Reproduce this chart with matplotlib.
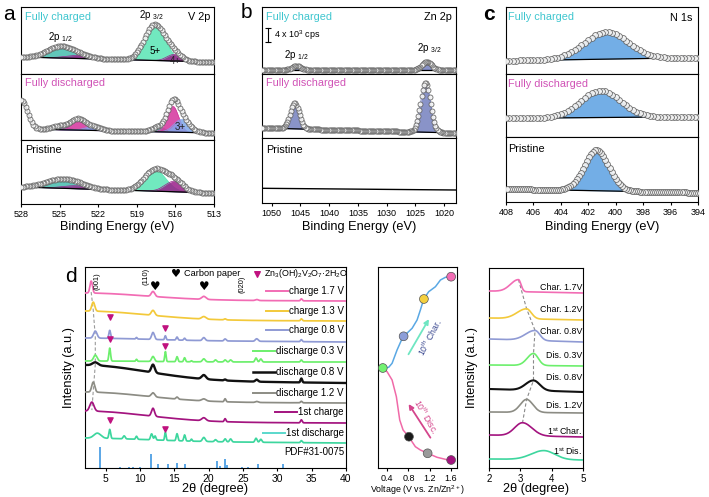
import numpy as np
import matplotlib
matplotlib.use('Agg')
import matplotlib.pyplot as plt

plt.rcParams['font.family'] = ['Liberation Sans', 'DejaVu Sans']
plt.rcParams['mathtext.fontset'] = 'custom'
plt.rcParams['mathtext.rm'] = 'Liberation Sans'
plt.rcParams['mathtext.it'] = 'Liberation Sans:italic'
plt.rcParams['mathtext.bf'] = 'Liberation Sans:bold'
plt.rcParams['axes.linewidth'] = 0.8

# ---------------------------------------------------------------- data
# Panel a : V 2p  (binding energy, eV)
v2p_ticks = [528, 525, 522, 519, 516, 513]
v2p_chg_bg = [17, 12]
v2p_chg_centers = [525.0, 523.5, 517.6, 516.1]
v2p_chg_heights = [11, 3, 36, 6.5]
v2p_chg_widths = [1.0, 1.0, 0.8, 0.55]
v2p_dis_bg = [11, 7]
v2p_dis_tail = [528.0, 29, 0.5]
v2p_dis_centers = [525.0, 523.6, 522.4, 517.3, 516.2, 515.5]
v2p_dis_heights = [4, 11, 4, 5, 26, 13]
v2p_dis_widths = [0.6, 0.55, 0.6, 0.5, 0.45, 0.6]
v2p_pri_bg = [17, 11]
v2p_pri_centers = [525.0, 523.7, 517.6, 516.1]
v2p_pri_heights = [8, 3, 21.5, 10.5]
v2p_pri_widths = [1.2, 1.0, 0.85, 0.7]

# Panel b : Zn 2p
zn_ticks = [1050, 1045, 1040, 1035, 1030, 1025, 1020]
zn_chg_bg = [4, 4]
zn_chg_centers = [1045.7, 1023.0]
zn_chg_heights = [4, 8]
zn_chg_widths = [0.8, 0.85]
zn_dis_bg = [10, 5]
zn_dis_centers = [1046.0, 1023.2]
zn_dis_heights = [26, 50]
zn_dis_widths = [0.8, 0.85]
zn_pri_bg = [14.7, 13]

# Panel c : N 1s
n_ticks = [408, 406, 404, 402, 400, 398, 396, 394]
n_chg_bg = [13.3, 16.3]
n_chg_peak = [400.7, 27, 1.6]
n_dis_bg = [18.7, 20.3]
n_dis_peak = [401.1, 27, 1.45]
n_pri_bg = [13, 9.3]
n_pri_peak = [401.4, 40.5, 0.9]

# Panel d : XRD patterns
xrd_labels = ['charge 1.7 V', 'charge 1.3 V', 'charge 0.8 V', 'discharge 0.3 V',
              'discharge 0.8 V', 'discharge 1.2 V', '1st charge', '1st discharge']
xrd_bg_left = [168, 148, 128, 106, 88, 66, 46, 27]
xrd_bg_right = [167, 147, 126, 106, 85, 65, 45, 25]
xrd_hump = [7, 9, 2, 1, 15, 10, 11, 3]
xrd_peaks_pink = [(2.9, 12, 0.18), (11.9, 5, 0.25), (19.3, 3, 0.3), (27.0, 1, 0.2), (33.5, 2, 0.12)]
xrd_peaks_yellow = [(3.2, 9, 0.22), (11.9, 5, 0.25), (19.3, 2.5, 0.3), (22.4, 1, 0.15), (33.5, 2, 0.12)]
xrd_peaks_blue = [(3.5, 7, 0.25), (5.6, 8, 0.12), (9.5, 1.5, 0.1), (11.9, 7, 0.2), (13.7, 4, 0.1),
                  (15.4, 3, 0.12), (16.5, 2, 0.12), (19.3, 3, 0.2), (22.4, 2, 0.15), (27.0, 2.5, 0.2),
                  (33.5, 2, 0.12)]
xrd_peaks_green = [(3.5, 6, 0.25), (5.6, 13, 0.12), (9.5, 2, 0.1), (11.9, 5, 0.2), (13.7, 10, 0.1),
                   (15.4, 5, 0.12), (16.5, 4, 0.12), (17.5, 1, 0.1), (19.3, 3, 0.2), (21.0, 2, 0.15),
                   (22.4, 2, 0.15), (23.2, 2, 0.15), (26.9, 4, 0.15), (27.6, 3, 0.15), (33.5, 2, 0.12)]
xrd_peaks_black = [(3.5, 3, 0.4), (11.9, 8, 0.25), (19.3, 4, 0.3), (22.4, 1, 0.15), (27.0, 2, 0.2),
                   (33.5, 4, 0.12)]
xrd_peaks_gray = [(3.2, 10, 0.22), (11.9, 4, 0.25), (15.4, 2, 0.15), (19.3, 2, 0.3), (22.4, 3, 0.12),
                  (27.0, 1, 0.2), (33.5, 1.5, 0.12)]
xrd_peaks_purple = [(3.0, 9, 0.3), (11.9, 8, 0.22), (19.3, 3, 0.3), (22.4, 3, 0.12), (33.5, 3, 0.12)]
xrd_peaks_teal = [(3.8, 5, 0.5), (5.6, 9, 0.12), (7.7, 3, 0.15), (9.5, 3, 0.12), (11.7, 6, 0.15),
                  (12.2, 4, 0.12), (13.7, 8, 0.1), (15.4, 7, 0.12), (16.5, 6, 0.12), (17.5, 2, 0.1),
                  (19.3, 4, 0.2), (21.0, 2, 0.15), (22.4, 3, 0.15), (23.2, 3, 0.15), (26.9, 4, 0.15),
                  (27.6, 3, 0.15), (33.5, 2, 0.12)]
xrd_peaks = [xrd_peaks_pink, xrd_peaks_yellow, xrd_peaks_blue, xrd_peaks_green,
             xrd_peaks_black, xrd_peaks_gray, xrd_peaks_purple, xrd_peaks_teal]
xrd_label_y = [177, 157, 138, 117, 96, 75, 56, 35]
pdf_pos = [4.18, 7.08, 8.43, 8.92, 9.98, 11.68, 12.64, 14.1, 15.45, 16.56, 21.2, 21.6, 22.4, 22.7,
           24.8, 25.8, 27.2, 30.9]
pdf_height = [21, 1.5, 1.5, 1.5, 1.5, 14, 4, 4, 5, 4, 7, 2, 9, 3, 1.5, 1.5, 4, 4]
zn_phase_tri_x = [5.6, 13.7, 5.6, 13.7, 5.6, 13.7]
zn_phase_tri_y = [151, 140, 129, 122, 48, 39]
carbon_x = [12.2, 19.3]
carbon_y = [181, 181]

# Middle panel : voltage profile
volt_dis_v = [0.317, 0.40, 0.494, 0.574, 0.637, 0.70, 0.805, 0.93, 1.024, 1.161, 1.337, 1.60]
volt_dis_y = [100, 96.3, 88, 71.3, 48, 38, 31.3, 21.3, 18, 14.7, 10.7, 7.3]
volt_chg_v = [0.317, 0.43, 0.494, 0.587, 0.681, 0.712, 0.869, 0.962, 1.024, 1.087, 1.18, 1.306,
              1.40, 1.493, 1.60]
volt_chg_y = [100, 100.7, 104.7, 118, 129.3, 131.7, 139.7, 148, 158, 169, 176.3, 181.3, 188,
              190.7, 191.3]
state_v = [1.60, 1.09, 0.71, 0.32, 0.81, 1.16, 1.60]
state_y = [191.3, 169, 131.7, 100, 31.3, 14.7, 8]

# Right panel : zoom of (001)
zoom_labels = ['Char. 1.7V', 'Char. 1.2V', 'Char. 0.8V', 'Dis. 0.3V', 'Dis. 0.8V', 'Dis. 1.2V',
               '1$^{\\mathrm{st}}$ Char.', '1$^{\\mathrm{st}}$ Dis.']
zoom_bg_left = [177, 150, 129, 103, 79, 56, 33, 9]
zoom_bg_right = [175, 148, 126, 102, 76, 55, 31, 8]
zoom_peak_c = [2.94, 3.2, 3.47, 3.42, 3.42, 3.2, 3.07, 3.75]
zoom_peak_h = [12, 10, 10, 12, 10, 13, 13, 9]
zoom_peak_sl = [0.25, 0.3, 0.3, 0.2, 0.25, 0.2, 0.25, 0.4]
zoom_peak_sr = [0.08, 0.15, 0.15, 0.15, 0.2, 0.2, 0.3, 0.35]
zoom_label_y = [180, 158, 137, 113, 91, 63, 37, 17]

# ---------------------------------------------------------------- styles
xrd_colors = ['#f26cb4', '#f3c93a', '#8f9ad4', '#6cef6c', '#111111', '#8c8c84', '#a3137f', '#3dd69e']
legend_colors = ['#f26cb4', '#f3c93a', '#8f9ad4', '#6cef6c', '#111111', '#8c8c84', '#a3137f', '#5ad8cc']
state_colors = ['#f26cb4', '#f3d040', '#8c9ed8', '#72f272', '#1a1a1a', '#9a9a9a', '#a3137f']
mint = '#58e6b4'
teal = '#45bcae'
purp = '#9a1f8a'
mag = '#d4329c'
blu3 = '#7fa8ec'
zn_fill = '#7480bf'
n_fill = '#5aa0e2'
cyan_txt = '#3fc6cf'
mag_txt = '#d052b6'

W, H = 709, 497
fig = plt.figure(figsize=(W / 100, H / 100), dpi=100)


def add_ax(l, t, r, b):
    return fig.add_axes([l / W, 1 - b / H, (r - l) / W, (b - t) / H])


def ftext(x, y, s, **kw):
    return fig.text(x / W, 1 - y / H, s, **kw)


def gauss(x, c, h, s):
    return h * np.exp(-0.5 * ((x - c) / s) ** 2)


def linbg(x, lim, bg):
    return bg[0] + (bg[1] - bg[0]) * (x - lim[0]) / (lim[1] - lim[0])


def clean(ax, xlim, ylim, ticks=None):
    ax.set_xlim(*xlim)
    ax.set_ylim(*ylim)
    ax.set_yticks([])
    if ticks is None:
        ax.set_xticks([])
    else:
        ax.set_xticks(ticks)
        ax.tick_params(axis='x', labelsize=6.5, length=2.5, width=0.8, pad=2, direction='out')


def xps(ax, x, lim, bg, centers, heights, widths, colors, step, tail=None, ms=3.6):
    base = linbg(x, lim, bg)
    if tail is not None:
        base = base + gauss(x, *tail)
    env = base.copy()
    for c, h, w, col in zip(centers, heights, widths, colors):
        comp = gauss(x, c, h, w)
        ax.fill_between(x, base, base + comp, color=col, alpha=0.85, lw=0, zorder=2)
        ax.plot(x, base + comp, color=col, lw=0.5, zorder=2)
        env = env + comp
    ax.plot(x, base, color='k', lw=0.9, zorder=3)
    xc = np.arange(min(lim), max(lim) + 1e-6, step)
    bc = linbg(xc, lim, bg)
    if tail is not None:
        bc = bc + gauss(xc, *tail)
    ec = bc.copy()
    for c, h, w in zip(centers, heights, widths):
        ec = ec + gauss(xc, c, h, w)
    ax.plot(xc, ec, ls='none', marker='o', ms=ms, mfc='#f4f4f4', mec='#5e5e5e', mew=0.6,
            alpha=0.9, zorder=4)


# ---------------------------------------------------------------- panel a
alim = (528, 513)
xa = np.linspace(513, 528, 700)
a1 = add_ax(21, 7, 214, 74)
a2 = add_ax(21, 74, 214, 140)
a3 = add_ax(21, 140, 214, 204)
xps(a1, xa, alim, v2p_chg_bg, v2p_chg_centers, v2p_chg_heights, v2p_chg_widths,
    [teal, purp, mint, purp], 0.12)
xps(a2, xa, alim, v2p_dis_bg, v2p_dis_centers, v2p_dis_heights, v2p_dis_widths,
    [teal, mag, blu3, teal, mag, blu3], 0.12, tail=v2p_dis_tail)
xps(a3, xa, alim, v2p_pri_bg, v2p_pri_centers, v2p_pri_heights, v2p_pri_widths,
    [teal, purp, mint, purp], 0.12)
clean(a1, alim, (0, 67))
clean(a2, alim, (0, 66))
clean(a3, alim, (0, 64), v2p_ticks)
a1.text(0.02, 0.85, 'Fully charged', transform=a1.transAxes, color=cyan_txt, fontsize=7.8, va='center')
a1.text(0.98, 0.85, 'V 2p', transform=a1.transAxes, color='k', fontsize=7.8, va='center', ha='right')
a1.text(517.9, 59, '2p $_{3/2}$', fontsize=7, ha='center', va='center')
a1.text(524.9, 37, '2p $_{1/2}$', fontsize=7, ha='center', va='center')
a1.text(517.6, 23, '5+', fontsize=7, ha='center', va='center')
a1.text(516.0, 13, '4+', fontsize=7, ha='center', va='center', color='#222222')
a2.text(0.02, 0.86, 'Fully discharged', transform=a2.transAxes, color=mag_txt, fontsize=7.8, va='center')
a2.text(515.6, 13, '3+', fontsize=7, ha='center', va='center', color='#222222')
a3.text(0.02, 0.84, 'Pristine', transform=a3.transAxes, color='k', fontsize=7.8, va='center')

# ---------------------------------------------------------------- panel b
blim = (1051.7, 1017.9)
xb = np.linspace(1017.9, 1051.7, 900)
b1 = add_ax(262, 7, 456, 74)
b2 = add_ax(262, 74, 456, 138)
b3 = add_ax(262, 138, 456, 203)
xps(b1, xb, blim, zn_chg_bg, zn_chg_centers, zn_chg_heights, zn_chg_widths, [zn_fill, zn_fill], 0.2)
xps(b2, xb, blim, zn_dis_bg, zn_dis_centers, zn_dis_heights, zn_dis_widths, [zn_fill, zn_fill], 0.2)
b3.plot(xb, linbg(xb, blim, zn_pri_bg), color='k', lw=1.0)
clean(b1, blim, (0, 67))
clean(b2, blim, (0, 64))
clean(b3, blim, (0, 65), zn_ticks)
b1.text(0.02, 0.85, 'Fully charged', transform=b1.transAxes, color=cyan_txt, fontsize=7.8, va='center')
b1.text(0.98, 0.85, 'Zn 2p', transform=b1.transAxes, color='k', fontsize=7.8, va='center', ha='right')
b1.plot([1050.65, 1050.65], [32, 46], color='k', lw=0.8, marker='_', ms=4, mew=0.8)
b1.text(1049.6, 39, '4 x 10$^{3}$ cps', fontsize=6.5, va='center')
b1.text(1045.7, 19, '2p $_{1/2}$', fontsize=7, ha='center', va='center')
b1.text(1022.6, 26, '2p $_{3/2}$', fontsize=7, ha='center', va='center')
b2.text(0.02, 0.86, 'Fully discharged', transform=b2.transAxes, color=mag_txt, fontsize=7.8, va='center')
b3.text(0.02, 0.82, 'Pristine', transform=b3.transAxes, color='k', fontsize=7.8, va='center')

# ---------------------------------------------------------------- panel c
clim = (408, 394)
xcc = np.linspace(394, 408, 600)
c1 = add_ax(506, 7, 698, 74)
c2 = add_ax(506, 74, 698, 137)
c3 = add_ax(506, 137, 698, 202)
xps(c1, xcc, clim, n_chg_bg, [n_chg_peak[0]], [n_chg_peak[1]], [n_chg_peak[2]], [n_fill], 0.25, ms=4.2)
xps(c2, xcc, clim, n_dis_bg, [n_dis_peak[0]], [n_dis_peak[1]], [n_dis_peak[2]], [n_fill], 0.25, ms=4.2)
xps(c3, xcc, clim, n_pri_bg, [n_pri_peak[0]], [n_pri_peak[1]], [n_pri_peak[2]], [n_fill], 0.15, ms=4.2)
clean(c1, clim, (0, 67))
clean(c2, clim, (0, 63))
clean(c3, clim, (0, 65), n_ticks)
c1.text(0.01, 0.85, 'Fully charged', transform=c1.transAxes, color=cyan_txt, fontsize=7.8, va='center')
c1.text(0.97, 0.83, 'N 1s', transform=c1.transAxes, color='k', fontsize=7.8, va='center', ha='right')
c2.text(0.01, 0.84, 'Fully discharged', transform=c2.transAxes, color=mag_txt, fontsize=7.8, va='center')
c3.text(0.01, 0.82, 'Pristine', transform=c3.transAxes, color='k', fontsize=7.8, va='center')

for xm in (117, 359, 602):
    ftext(xm, 227, 'Binding Energy (eV)', fontsize=9.2, ha='center', va='center')

# ---------------------------------------------------------------- panel d
d = add_ax(85, 267, 346, 468)
xx = np.arange(2, 40.0001, 0.02)
peak001 = []
for i in range(8):
    y = xrd_bg_left[i] + (xrd_bg_right[i] - xrd_bg_left[i]) * (xx - 2) / 38 + gauss(xx, 2, xrd_hump[i], 9)
    for (c, h, s) in xrd_peaks[i]:
        y = y + gauss(xx, c, h, s)
    d.plot(xx, y, color=xrd_colors[i], lw=1.7 if i == 4 else 1.25, zorder=3)
    if i < 7:
        c0 = xrd_peaks[i][0][0]
        peak001.append((c0, xrd_bg_left[i] + (xrd_bg_right[i] - xrd_bg_left[i]) * (c0 - 2) / 38
                        + gauss(c0, 2, xrd_hump[i], 9) + 1))
d.plot([p[0] for p in peak001], [p[1] for p in peak001], color='#9a9a9a', lw=0.8, ls=(0, (3, 2)), zorder=2)
d.vlines(pdf_pos, 0, pdf_height, color='#5aa6e6', lw=1.4)
d.scatter(zn_phase_tri_x, zn_phase_tri_y, marker='v', s=14, color='#c0127f', zorder=5)
for cx, cy in zip(carbon_x, carbon_y):
    d.text(cx, cy, '\u2665', fontsize=8.5, ha='center', va='center', family='DejaVu Sans')
d.set_xlim(2, 40)
d.set_ylim(0, 201)
d.set_yticks([])
d.set_xticks([5, 10, 15, 20, 25, 30, 35, 40])
d.tick_params(axis='x', labelsize=7.5, length=2.5, width=0.8, pad=2)
fig.canvas.draw()
rend = fig.canvas.get_renderer()
px2d = 38 / 261
for i, lab in enumerate(xrd_labels):
    t = d.text(39.7, xrd_label_y[i], lab, fontsize=7, ha='right', va='center')
    bb = t.get_window_extent(renderer=rend)
    x0 = d.transData.inverted().transform((bb.x0, bb.y0))[0]
    d.plot([x0 - 23 * px2d, x0 - 1 * px2d], [xrd_label_y[i], xrd_label_y[i]],
           color=legend_colors[i], lw=1.4 if i != 4 else 1.8)
d.text(39.7, 16, 'PDF#31-0075', fontsize=7, ha='right', va='center')
d.text(15.2, 194, '\u2665', fontsize=8, ha='center', va='center', family='DejaVu Sans')
d.text(16.4, 194, 'Carbon paper', fontsize=6.6, va='center')
d.scatter([27.0], [194], marker='v', s=16, color='#c0127f')
d.text(28.0, 194, 'Zn$_3$(OH)$_2$V$_2$O$_7$\u00b72H$_2$O', fontsize=6.4, va='center')
d.text(3.7, 187, '(001)', fontsize=5.5, rotation=90, ha='center', va='center')
d.text(10.9, 192, '(110)', fontsize=5.5, rotation=90, ha='center', va='center')
d.text(24.9, 184, '(020)', fontsize=5.3, rotation=90, ha='center', va='center')
d.set_ylabel('Intensity (a.u.)', fontsize=9.2)
d.yaxis.set_label_coords(-10 / 261, 0.5)
ftext(215, 489, '2\u03b8 (degree)', fontsize=9.2, ha='center', va='center')
ftext(71, 276, 'd', fontsize=15, ha='center', va='center')
ftext(9, 14, 'a', fontsize=15, ha='center', va='center')
ftext(246, 12, 'b', fontsize=15, ha='center', va='center')
ftext(489, 15, 'c', fontsize=15, ha='center', va='center', fontweight='bold')

# ---------------------------------------------------------------- middle panel
m = add_ax(378, 267, 457, 468)
m.plot(volt_dis_v, volt_dis_y, color='#f06aa8', lw=1.1, zorder=2)
m.plot(volt_chg_v, volt_chg_y, color='#5aa8e4', lw=1.1, zorder=2)
m.scatter(state_v, state_y, s=40, c=state_colors, edgecolors='#555555', linewidths=0.5, zorder=4)
m.annotate('', xy=(1.21, 151.3), xytext=(0.775, 111.3),
           arrowprops=dict(arrowstyle='-|>', color='#6fe6c2', lw=1.3, mutation_scale=7))
m.annotate('', xy=(0.775, 66.3), xytext=(1.24, 28),
           arrowprops=dict(arrowstyle='-|>', color='#d4458c', lw=1.3, mutation_scale=7))
m.text(1.2, 131, '10$^{\\mathrm{th}}$ Char.', fontsize=6.3, rotation=62, color='#3a4890',
       ha='center', va='center')
m.text(1.13, 52, '10$^{\\mathrm{th}}$ Disc.', fontsize=6.3, rotation=-60, color='#d4458c',
       ha='center', va='center')
m.set_xlim(0.23, 1.71)
m.set_ylim(0, 201)
m.set_yticks([])
m.set_xticks([0.4, 0.8, 1.2, 1.6])
m.tick_params(axis='x', labelsize=6.5, length=2.5, width=0.8, pad=1.5)
ftext(417, 490, 'Voltage (V vs. Zn/Zn$^{2+}$)', fontsize=6.4, ha='center', va='center')

# ---------------------------------------------------------------- right panel
r = add_ax(489, 268, 583, 468)
xz = np.arange(2, 5.0001, 0.005)
tops = []
for i in range(8):
    base = zoom_bg_left[i] + (zoom_bg_right[i] - zoom_bg_left[i]) * (xz - 2) / 3
    s = np.where(xz < zoom_peak_c[i], zoom_peak_sl[i], zoom_peak_sr[i])
    y = base + zoom_peak_h[i] * np.exp(-0.5 * ((xz - zoom_peak_c[i]) / s) ** 2)
    r.plot(xz, y, color=xrd_colors[i], lw=1.5 if i == 4 else 1.2, zorder=3)
    if i < 7:
        tops.append((zoom_peak_c[i], zoom_bg_left[i] + (zoom_bg_right[i] - zoom_bg_left[i])
                     * (zoom_peak_c[i] - 2) / 3 + zoom_peak_h[i]))
    r.text(4.97, zoom_label_y[i], zoom_labels[i], fontsize=6.4, ha='right', va='center')
r.plot([t[0] for t in tops], [t[1] for t in tops], color='#8a8a8a', lw=0.8, ls=(0, (3, 2)), zorder=2)
r.set_xlim(2, 5)
r.set_ylim(0, 200)
r.set_yticks([])
r.set_xticks([2, 3, 4, 5])
r.tick_params(axis='x', labelsize=7, length=2.5, width=0.8, pad=2)
r.set_ylabel('Intensity (a.u.)', fontsize=9.2)
r.yaxis.set_label_coords(-11 / 94, 0.5)
ftext(536, 489, '2\u03b8 (degree)', fontsize=9.2, ha='center', va='center')

fig.savefig('out.png', dpi=100)
